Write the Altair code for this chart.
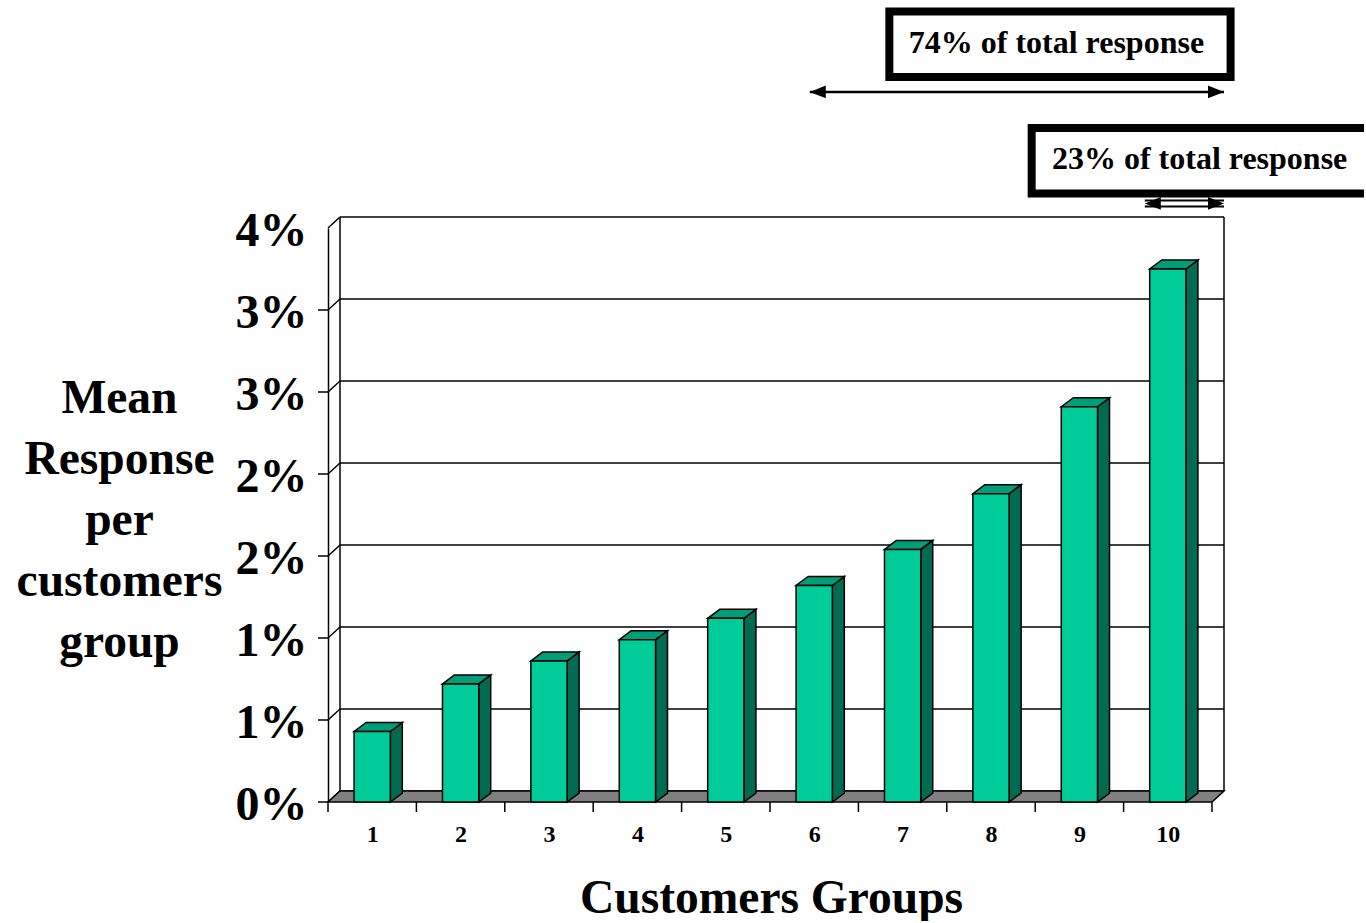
import json
import altair as alt
import pandas as pd

# ---------------- data ----------------
GROUPS = ["1", "2", "3", "4", "5", "6", "7", "8", "9", "10"]
MEAN_RESPONSE = [0.43, 0.72, 0.86, 0.99, 1.12, 1.32, 1.54, 1.88, 2.41, 3.25]  # percent
Y_TICK_VALUES = [0.0, 0.5, 1.0, 1.5, 2.0, 2.5, 3.0, 3.5]
Y_TITLE_LINES = ["Mean", "Response", "per", "customers", "group"]
X_TITLE = "Customers Groups"
SPAN_TEXT = ["74% of total response", "23% of total response"]

# ---------------- layout / style ----------------
W, H = 884, 574
X_MAX, Y_MAX = len(GROUPS), 3.5
PX_X = W / X_MAX
PX_Y = H / Y_MAX
WALL_DX, WALL_DY = 12, 11      # depth of the chart box, px
BAR_DX, BAR_DY = 12, 9         # depth of each bar, px
BAR_FRAC = 0.41                # bar width as a share of its group band
FONT = "Liberation Serif"
FRONT, TOP, SIDE, FLOOR = "#00CC99", "#009E76", "#006B50", "#808080"
LW = 1.5
BIG = 47.5

# annotation placement (in chart units)
SPAN_TEXT_X = [8.24, 9.86]
SPAN_TEXT_Y = [4.63, 3.92]
SPAN_BOX_X = [(6.35, 10.21), (7.96, 11.77)]
SPAN_BOX_Y = [(4.42, 4.82), (3.71, 4.11)]
SPAN_ARROW_FROM = [5.45, 9.24]
SPAN_ARROW_Y = [4.33, 3.65]

# ---------------- derived tables ----------------
n = len(GROUPS)
wdx, wdy = WALL_DX / PX_X, WALL_DY / PX_Y
bdx, bdy = BAR_DX / PX_X, BAR_DY / PX_Y
centers = [i + 0.5 for i in range(n)]
half = BAR_FRAC / 2

bars = pd.DataFrame({
    "group": GROUPS,
    "value": MEAN_RESPONSE,
    "left": [c - half for c in centers],
    "right": [c + half for c in centers],
    "base": 0.0,
})

side_rows, top_rows = [], []
for g, v, l, r in zip(GROUPS, MEAN_RESPONSE, bars["left"], bars["right"]):
    side_rows.append({"group": g, "x": r, "yt": v, "yb": 0.0})
    side_rows.append({"group": g, "x": r + bdx, "yt": v + bdy, "yb": bdy})
    top_rows.append({"group": g, "y": v, "xl": l, "xr": r})
    top_rows.append({"group": g, "y": v + bdy, "xl": l + bdx, "xr": r + bdx})
side = pd.DataFrame(side_rows)
top = pd.DataFrame(top_rows)

floor = pd.DataFrame({"y": [0.0, wdy], "xl": [0.0, wdx], "xr": [float(X_MAX), X_MAX + wdx]})
grid = pd.DataFrame({"v": Y_TICK_VALUES, "x0": 0.0, "x1": float(X_MAX)})
walls = pd.DataFrame({"x": [0.0, float(X_MAX)], "y0": 0.0, "y1": Y_MAX})
xticks = pd.DataFrame({"x": [float(i) for i in range(n + 1)], "y": 0.0})
yticks = pd.DataFrame({"v": Y_TICK_VALUES[:-1], "x": 0.0})

annot = pd.DataFrame({
    "text": SPAN_TEXT,
    "tx": SPAN_TEXT_X, "ty": SPAN_TEXT_Y,
    "bx0": [b[0] for b in SPAN_BOX_X], "bx1": [b[1] for b in SPAN_BOX_X],
    "by0": [b[0] for b in SPAN_BOX_Y], "by1": [b[1] for b in SPAN_BOX_Y],
    "ax0": SPAN_ARROW_FROM, "ax1": [X_MAX + wdx] * 2, "ay": SPAN_ARROW_Y,
})
arrow_single = annot.iloc[[0]]
arrow_double = annot.iloc[[1]]

# ---------------- scales / axes ----------------
XS = alt.Scale(domain=[0, X_MAX], nice=False, zero=False)
YS = alt.Scale(domain=[0, Y_MAX], nice=False, zero=False)

x_axis = alt.Axis(
    values=centers,
    labelExpr=json.dumps(GROUPS) + "[floor(datum.value)]",
    ticks=False, tickSize=0, domain=False, grid=False,
    labelFont=FONT, labelFontSize=24, labelFontWeight="bold", labelColor="black",
    labelPadding=32, labelBaseline="middle", labelFlush=False, labelOverlap=False,
    title=X_TITLE, titleFont=FONT, titleFontSize=BIG, titleFontWeight="bold",
    titleColor="black", titleX=W / 2 + 1, titleY=110, titleAlign="center",
    titleBaseline="alphabetic",
)
y_axis = alt.Axis(
    values=Y_TICK_VALUES,
    labelExpr="round(datum.value) + '%'",
    ticks=False, tickSize=0, domain=True, domainColor="black", domainWidth=LW,
    grid=False,
    labelFont=FONT, labelFontSize=48, labelFontWeight="bold", labelColor="black",
    labelPadding=21, labelFlush=False, labelOverlap=False, labelOffset=3,
    title=Y_TITLE_LINES, titleFont=FONT, titleFontSize=BIG, titleFontWeight="bold",
    titleColor="black", titleAngle=0, titleAlign="center", titleBaseline="middle",
    titleLineHeight=61, titleX=-209, titleY=170,
)


def X(f):
    return alt.X(f, scale=XS, axis=x_axis)


def Y(f):
    return alt.Y(f, scale=YS, axis=y_axis, stack=None)


# ---------------- layers ----------------
back_grid = alt.Chart(grid).mark_rule(
    color="black", strokeWidth=LW, xOffset=WALL_DX, x2Offset=WALL_DX, yOffset=-WALL_DY
).encode(x=X("x0:Q"), x2="x1:Q", y=Y("v:Q"))

left_wall = alt.Chart(grid).mark_rule(
    color="black", strokeWidth=LW, x2Offset=WALL_DX, y2Offset=-WALL_DY
).encode(x=X("x0:Q"), x2="x0:Q", y=Y("v:Q"), y2="v:Q")

wall_edges = alt.Chart(walls).mark_rule(
    color="black", strokeWidth=LW, xOffset=WALL_DX, yOffset=-WALL_DY, y2Offset=-WALL_DY
).encode(x=X("x:Q"), y=Y("y0:Q"), y2="y1:Q")

floor_layer = alt.Chart(floor).mark_area(
    orient="horizontal", fill=FLOOR, fillOpacity=1, stroke="black", strokeWidth=LW
).encode(y=Y("y:Q"), x=X("xl:Q"), x2="xr:Q")

side_layer = alt.Chart(side).mark_area(
    orient="vertical", fill=SIDE, fillOpacity=1, stroke="black", strokeWidth=LW
).encode(x=X("x:Q"), y=Y("yt:Q"), y2="yb:Q", detail="group:N")

top_layer = alt.Chart(top).mark_area(
    orient="horizontal", fill=TOP, fillOpacity=1, stroke="black", strokeWidth=LW
).encode(y=Y("y:Q"), x=X("xl:Q"), x2="xr:Q", detail="group:N")

front_layer = alt.Chart(bars).mark_rect(
    fill=FRONT, stroke="black", strokeWidth=LW
).encode(x=X("left:Q"), x2="right:Q", y=Y("value:Q"), y2="base:Q")

xtick_layer = alt.Chart(xticks).mark_rule(
    color="black", strokeWidth=LW, y2Offset=10
).encode(x=X("x:Q"), y=Y("y:Q"), y2="y:Q")

ytick_layer = alt.Chart(yticks).mark_rule(
    color="black", strokeWidth=LW, xOffset=-10
).encode(x=X("x:Q"), x2="x:Q", y=Y("v:Q"))

box_layer = alt.Chart(annot).mark_rect(
    fill="white", stroke="black", strokeWidth=8
).encode(x=X("bx0:Q"), x2="bx1:Q", y=Y("by0:Q"), y2="by1:Q")

text_layer = alt.Chart(annot).mark_text(
    font=FONT, fontSize=32, fontWeight="bold", color="black",
    align="center", baseline="middle"
).encode(x=X("tx:Q"), y=Y("ty:Q"), text="text:N")

line_single = alt.Chart(arrow_single).mark_rule(color="black", strokeWidth=2.5).encode(
    x=X("ax0:Q"), x2="ax1:Q", y=Y("ay:Q"))
line_double_a = alt.Chart(arrow_double).mark_rule(color="black", strokeWidth=2, yOffset=-3).encode(
    x=X("ax0:Q"), x2="ax1:Q", y=Y("ay:Q"))
line_double_b = alt.Chart(arrow_double).mark_rule(color="black", strokeWidth=2, yOffset=3).encode(
    x=X("ax0:Q"), x2="ax1:Q", y=Y("ay:Q"))

head_left = alt.Chart(annot).mark_point(
    shape="M0,0L2,-0.8L2,0.8Z", size=256, filled=True, color="black", opacity=1
).encode(x=X("ax0:Q"), y=Y("ay:Q"))
head_right = alt.Chart(annot).mark_point(
    shape="M0,0L-2,-0.8L-2,0.8Z", size=256, filled=True, color="black", opacity=1
).encode(x=X("ax1:Q"), y=Y("ay:Q"))

chart = alt.layer(
    back_grid, left_wall, wall_edges, floor_layer,
    side_layer, top_layer, front_layer,
    xtick_layer, ytick_layer,
    box_layer, text_layer, line_single, line_double_a, line_double_b,
    head_left, head_right,
).properties(
    width=W, height=H,
    autosize=alt.AutoSizeParams(type="none"),
    padding={"left": 328, "top": 228, "right": 152, "bottom": 119},
    background="white",
).configure_view(stroke=None)

chart.save("out.html", embed_options={"renderer": "svg", "actions": False})
